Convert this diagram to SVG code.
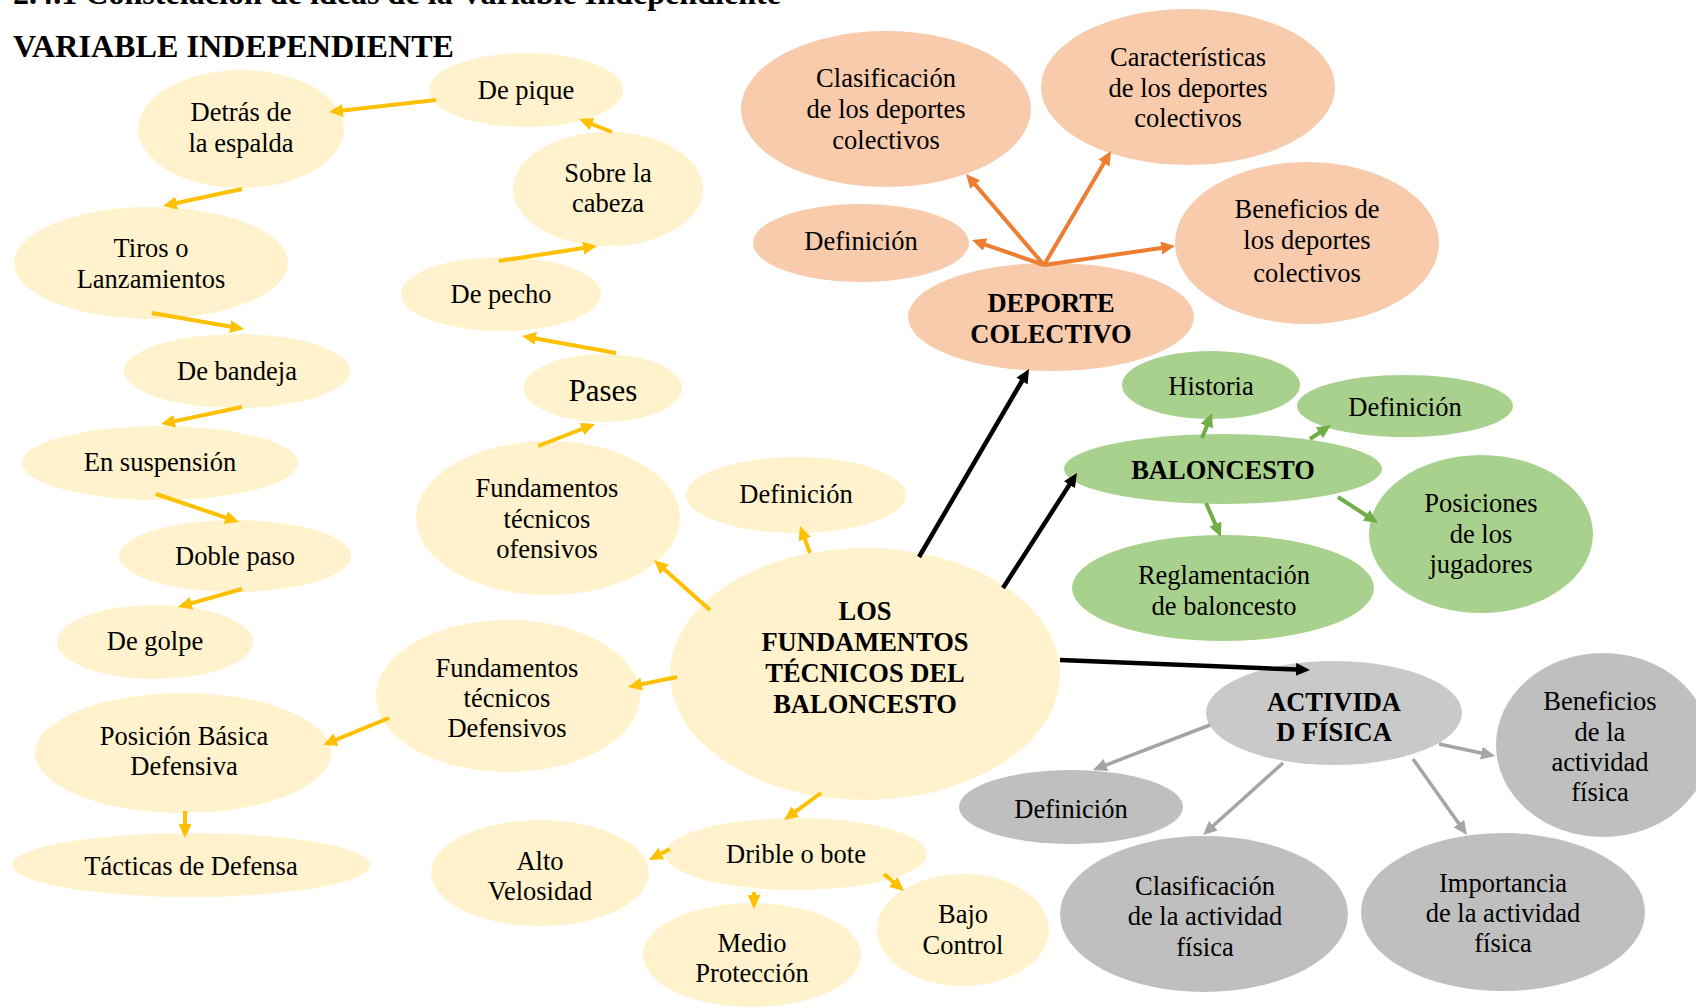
<svg xmlns="http://www.w3.org/2000/svg" width="1696" height="1008" viewBox="0 0 1696 1008">
<defs>
<style>
text{font-family:"Liberation Serif","Times New Roman",serif;font-size:26.5px;fill:#000;text-anchor:middle}
.b{font-weight:bold}
.h{text-anchor:start;font-weight:bold;font-size:32px}
.y{fill:#FFF2CC}
.o{fill:#F8CBAD}
.g{fill:#A9D18E}
.a{fill:#C9C9C9}
.s{fill:#BFBFBF}
.cy{stroke:#FFC000;stroke-width:4;fill:none;marker-end:url(#my)}
.co{stroke:#ED7D31;stroke-width:4;fill:none;marker-end:url(#mo)}
.ck{stroke:#000;stroke-width:4.5;fill:none;marker-end:url(#mk)}
.cg{stroke:#70AD47;stroke-width:4;fill:none;marker-end:url(#mg)}
.cs{stroke:#A5A5A5;stroke-width:3.5;fill:none;marker-end:url(#ms)}
</style>
<marker id="my" viewBox="0 0 14 13" refX="7" refY="6.5" markerWidth="14" markerHeight="13" markerUnits="userSpaceOnUse" orient="auto"><path d="M0,0 L14,6.5 L0,13 z" fill="#FFC000"/></marker>
<marker id="mo" viewBox="0 0 14 13" refX="7" refY="6.5" markerWidth="14" markerHeight="13" markerUnits="userSpaceOnUse" orient="auto"><path d="M0,0 L14,6.5 L0,13 z" fill="#ED7D31"/></marker>
<marker id="mk" viewBox="0 0 14 13" refX="7" refY="6.5" markerWidth="14" markerHeight="13" markerUnits="userSpaceOnUse" orient="auto"><path d="M0,0 L14,6.5 L0,13 z" fill="#000"/></marker>
<marker id="mg" viewBox="0 0 14 13" refX="7" refY="6.5" markerWidth="14" markerHeight="13" markerUnits="userSpaceOnUse" orient="auto"><path d="M0,0 L14,6.5 L0,13 z" fill="#70AD47"/></marker>
<marker id="ms" viewBox="0 0 14 13" refX="7" refY="6.5" markerWidth="14" markerHeight="13" markerUnits="userSpaceOnUse" orient="auto"><path d="M0,0 L14,6.5 L0,13 z" fill="#A5A5A5"/></marker>
</defs>
<rect width="1696" height="1008" fill="#fff"/>
<g id="titles">
<text class="h" x="13" y="4" textLength="768" lengthAdjust="spacingAndGlyphs">2.4.1 Constelación de ideas de la Variable Independiente</text>
<text class="h" x="13" y="57" textLength="441" lengthAdjust="spacingAndGlyphs">VARIABLE INDEPENDIENTE</text>
</g>
<g id="n-depique"><ellipse class="y" cx="526" cy="90" rx="97" ry="37"/><text x="526" y="99">De pique</text></g>
<g id="n-detras"><ellipse class="y" cx="241" cy="129" rx="103" ry="59"/><text x="241" y="121">Detrás de</text><text x="241" y="152">la espalda</text></g>
<g id="n-sobre"><ellipse class="y" cx="608" cy="189" rx="95" ry="57"/><text x="608" y="182">Sobre la</text><text x="608" y="212">cabeza</text></g>
<g id="n-tiros"><ellipse class="y" cx="151" cy="263" rx="137" ry="56"/><text x="151" y="257">Tiros o</text><text x="151" y="288">Lanzamientos</text></g>
<g id="n-depecho"><ellipse class="y" cx="501" cy="294" rx="100" ry="37"/><text x="501" y="303">De pecho</text></g>
<g id="n-bandeja"><ellipse class="y" cx="237" cy="371" rx="113" ry="37"/><text x="237" y="380">De bandeja</text></g>
<g id="n-pases"><ellipse class="y" cx="603" cy="388" rx="79" ry="34"/><text x="603" y="401" style="font-size:31px">Pases</text></g>
<g id="n-suspension"><ellipse class="y" cx="160" cy="463" rx="138" ry="37"/><text x="160" y="471">En suspensión</text></g>
<g id="n-ofensivos"><ellipse class="y" cx="548" cy="518" rx="132" ry="77"/><text x="547" y="497">Fundamentos</text><text x="547" y="528">técnicos</text><text x="547" y="558">ofensivos</text></g>
<g id="n-def-y"><ellipse class="y" cx="796" cy="495" rx="110" ry="38"/><text x="796" y="503">Definición</text></g>
<g id="n-doble"><ellipse class="y" cx="235" cy="556" rx="116" ry="36"/><text x="235" y="565">Doble paso</text></g>
<g id="n-golpe"><ellipse class="y" cx="155" cy="642" rx="98" ry="37"/><text x="155" y="650">De golpe</text></g>
<g id="n-central"><ellipse class="y" cx="865" cy="674" rx="195" ry="126"/><text class="b" x="865" y="620">LOS</text><text class="b" x="865" y="651">FUNDAMENTOS</text><text class="b" x="865" y="682">TÉCNICOS DEL</text><text class="b" x="865" y="713">BALONCESTO</text></g>
<g id="n-defensivos"><ellipse class="y" cx="508" cy="696" rx="132" ry="76"/><text x="507" y="677">Fundamentos</text><text x="507" y="707">técnicos</text><text x="507" y="737">Defensivos</text></g>
<g id="n-posicion"><ellipse class="y" cx="183" cy="753" rx="148" ry="60"/><text x="184" y="745">Posición Básica</text><text x="184" y="775">Defensiva</text></g>
<g id="n-tacticas"><ellipse class="y" cx="191" cy="865" rx="179" ry="32"/><text x="191" y="875">Tácticas de Defensa</text></g>
<g id="n-alto"><ellipse class="y" cx="540" cy="873" rx="109" ry="53"/><text x="540" y="870">Alto</text><text x="540" y="900">Velosidad</text></g>
<g id="n-drible"><ellipse class="y" cx="796" cy="854" rx="131" ry="36"/><text x="796" y="863">Drible o bote</text></g>
<g id="n-medio"><ellipse class="y" cx="752" cy="955" rx="109" ry="52"/><text x="752" y="952">Medio</text><text x="752" y="982">Protección</text></g>
<g id="n-bajo"><ellipse class="y" cx="963" cy="930" rx="86" ry="56"/><text x="963" y="923">Bajo</text><text x="963" y="954">Control</text></g>
<g id="n-clasif-dc"><ellipse class="o" cx="886" cy="109" rx="145" ry="78"/><text x="886" y="87">Clasificación</text><text x="886" y="118">de los deportes</text><text x="886" y="149">colectivos</text></g>
<g id="n-caract-dc"><ellipse class="o" cx="1188" cy="87" rx="147" ry="78"/><text x="1188" y="66">Características</text><text x="1188" y="97">de los deportes</text><text x="1188" y="127">colectivos</text></g>
<g id="n-def-o"><ellipse class="o" cx="861" cy="243" rx="108" ry="39"/><text x="861" y="250">Definición</text></g>
<g id="n-benef-dc"><ellipse class="o" cx="1307" cy="243" rx="132" ry="81"/><text x="1307" y="218">Beneficios de</text><text x="1307" y="249">los deportes</text><text x="1307" y="282">colectivos</text></g>
<g id="n-deporte"><ellipse class="o" cx="1051" cy="317" rx="143" ry="54"/><text class="b" x="1051" y="312">DEPORTE</text><text class="b" x="1051" y="343">COLECTIVO</text></g>
<g id="n-historia"><ellipse class="g" cx="1211" cy="385" rx="89" ry="34"/><text x="1211" y="395">Historia</text></g>
<g id="n-def-g"><ellipse class="g" cx="1405" cy="406" rx="108" ry="31"/><text x="1405" y="416">Definición</text></g>
<g id="n-baloncesto"><ellipse class="g" cx="1223" cy="469" rx="159" ry="35"/><text class="b" x="1223" y="479">BALONCESTO</text></g>
<g id="n-posiciones"><ellipse class="g" cx="1481" cy="534" rx="112" ry="79"/><text x="1481" y="512">Posiciones</text><text x="1481" y="543">de los</text><text x="1481" y="573">jugadores</text></g>
<g id="n-reglam"><ellipse class="g" cx="1223" cy="588" rx="151" ry="53"/><text x="1224" y="584">Reglamentación</text><text x="1224" y="615">de baloncesto</text></g>
<g id="n-actividad"><ellipse class="a" cx="1334" cy="713" rx="128" ry="52"/><text class="b" x="1334" y="711">ACTIVIDA</text><text class="b" x="1334" y="741">D FÍSICA</text></g>
<g id="n-benef-af"><ellipse class="s" cx="1603" cy="745" rx="107" ry="92"/><text x="1600" y="710">Beneficios</text><text x="1600" y="741">de la</text><text x="1600" y="771">actividad</text><text x="1600" y="801">física</text></g>
<g id="n-def-s"><ellipse class="s" cx="1071" cy="807" rx="112" ry="37"/><text x="1071" y="818">Definición</text></g>
<g id="n-clasif-af"><ellipse class="s" cx="1204" cy="914" rx="144" ry="78"/><text x="1205" y="895">Clasificación</text><text x="1205" y="925">de la actividad</text><text x="1205" y="956">física</text></g>
<g id="n-import-af"><ellipse class="s" cx="1503" cy="912" rx="142" ry="79"/><text x="1503" y="892">Importancia</text><text x="1503" y="922">de la actividad</text><text x="1503" y="952">física</text></g>
<g id="connectors">
<path class="cy" d="M436,100 L336,111.2"/>
<path class="cy" d="M612,132 L585.5,121.6"/>
<path class="cy" d="M242,189 L169.8,204.5"/>
<path class="cy" d="M499,261 L590.1,247.1"/>
<path class="cy" d="M152,313 L237.1,327.8"/>
<path class="cy" d="M616,353 L528.9,337.2"/>
<path class="cy" d="M242,407 L167.8,422.6"/>
<path class="cy" d="M538,446 L588.5,426.5"/>
<path class="cy" d="M156,494 L232.4,519.8"/>
<path class="cy" d="M242,589 L184.7,605.1"/>
<path class="cy" d="M710,610 L659.2,564.7"/>
<path class="cy" d="M810,553 L802.4,532.6"/>
<path class="cy" d="M677,677 L634.9,685.6"/>
<path class="cy" d="M389,718 L329.5,742.3"/>
<path class="cy" d="M185,811 L185,831"/>
<path class="cy" d="M821,793 L789.7,815.9"/>
<path class="cy" d="M670,849 L655.2,856.8"/>
<path class="cy" d="M754,892 L754,902"/>
<path class="cy" d="M884,874 L898.7,886.5"/>
<path class="co" d="M1044,265 L970.6,179.3"/>
<path class="co" d="M1044,265 L1107.5,157"/>
<path class="co" d="M1044,265 L978.6,242.3"/>
<path class="co" d="M1044,265 L1168.1,247"/>
<path class="ck" d="M919,557 L1025.5,375"/>
<path class="ck" d="M1003,588 L1073.2,478.9"/>
<path class="ck" d="M1060,660 L1303,669.7"/>
<path class="cg" d="M1202,438 L1209.4,419.5"/>
<path class="cg" d="M1310,439 L1325.2,428.9"/>
<path class="cg" d="M1206,503 L1218.2,530.6"/>
<path class="cg" d="M1338,497 L1372.1,519.2"/>
<path class="cs" d="M1210,725 L1099.5,767.5"/>
<path class="cs" d="M1283,763 L1208.2,830.3"/>
<path class="cs" d="M1413,759 L1462.9,829.3"/>
<path class="cs" d="M1439,744 L1488.2,754.5"/>
</g>
</svg>
